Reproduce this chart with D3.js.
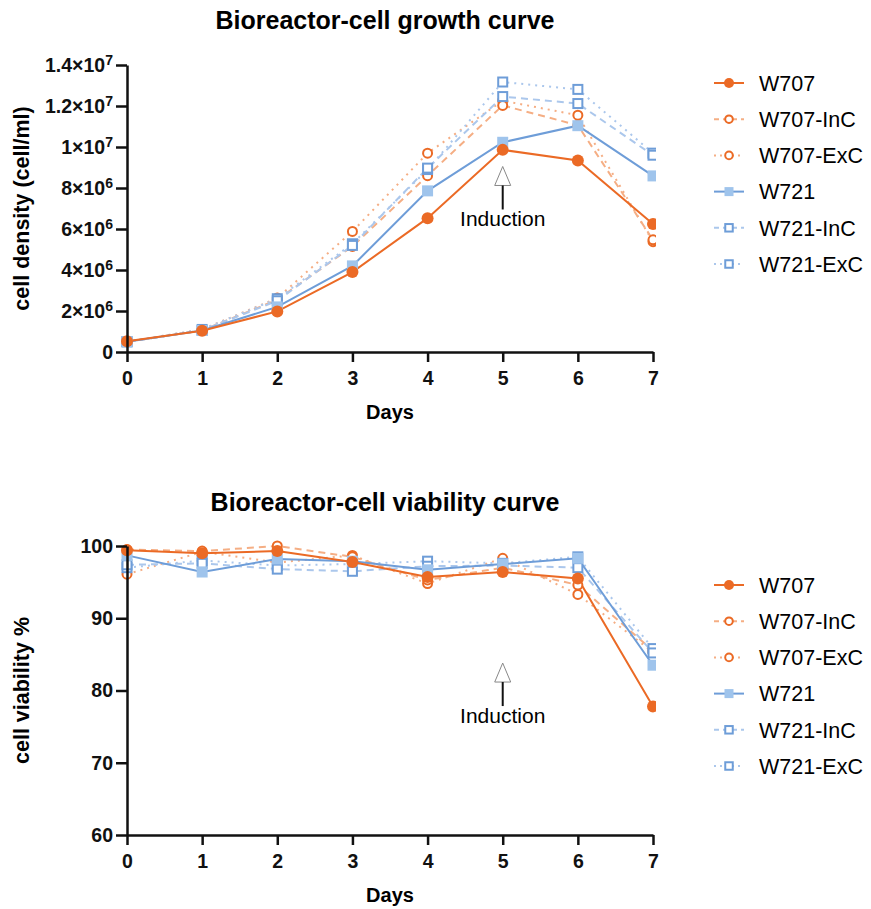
<!DOCTYPE html>
<html>
<head>
<meta charset="utf-8">
<script src="https://cdn.jsdelivr.net/npm/d3@7"></script>
<style>
  body { margin: 0; background: #fff; font-family: "Liberation Sans", Arial, sans-serif; }
</style>
</head>
<body>
<div id="chart"></div>
<script>
const days = [0, 1, 2, 3, 4, 5, 6, 7];
const seriesNames = ["W707", "W707-InC", "W707-ExC", "W721", "W721-InC", "W721-ExC"];

// cell density (cell/ml)
const densW707    = [0.52e6, 1.04e6, 1.98e6, 3.90e6, 6.53e6, 9.86e6, 9.34e6, 6.24e6];
const densW707InC = [0.50e6, 1.05e6, 2.55e6, 5.15e6, 8.60e6, 12.03e6, 11.06e6, 5.47e6];
const densW707ExC = [0.50e6, 1.10e6, 2.63e6, 5.88e6, 9.70e6, 12.26e6, 11.55e6, 5.38e6];
const densW721    = [0.50e6, 1.05e6, 2.20e6, 4.20e6, 7.86e6, 10.23e6, 11.04e6, 8.59e6];
const densW721InC = [0.50e6, 1.05e6, 2.50e6, 5.20e6, 8.97e6, 12.46e6, 12.12e6, 9.60e6];
const densW721ExC = [0.50e6, 1.10e6, 2.60e6, 5.28e6, 8.90e6, 13.17e6, 12.81e6, 9.70e6];

// cell viability (%)
const viabW707    = [99.4, 99.0, 99.3, 97.8, 95.7, 96.4, 95.5, 77.8];
const viabW707InC = [99.5, 99.3, 100.0, 98.5, 95.3, 97.0, 94.6, 85.5];
const viabW707ExC = [96.1, 99.2, 97.7, 98.7, 94.8, 98.3, 93.3, 85.3];
const viabW721    = [98.7, 96.4, 98.2, 97.9, 96.7, 97.5, 98.3, 83.5];
const viabW721InC = [97.4, 97.6, 96.8, 96.5, 97.2, 97.3, 97.0, 85.2];
const viabW721ExC = [97.0, 98.0, 97.3, 97.5, 97.9, 97.6, 98.5, 85.8];

const densTicks = [0, 2e6, 4e6, 6e6, 8e6, 10e6, 12e6, 14e6];
const viabTicks = [60, 70, 80, 90, 100];

const orange = "#EB6A25", orangeLight = "#F5AE84";
const blue = "#6E9DD8", blueFill = "#9FC4EC", blueLight = "#ABC7EC";

// line + marker style per series (same order as seriesNames)
const styles = [
  { line: orange,      dash: null,  width: 2,   marker: "circle", fill: orange, stroke: orange },
  { line: orangeLight, dash: "7,5", width: 2,   marker: "circle", fill: "#fff", stroke: orange },
  { line: orangeLight, dash: "2,5", width: 2,   marker: "circle", fill: "#fff", stroke: orange },
  { line: blue,        dash: null,  width: 2,   marker: "square", fill: blueFill, stroke: blueFill },
  { line: blueLight,   dash: "7,5", width: 2,   marker: "square", fill: "#fff", stroke: blue },
  { line: blueLight,   dash: "2,5", width: 2,   marker: "square", fill: "#fff", stroke: blue }
];

const width = 871, height = 909;
const svg = d3.select("#chart").append("svg")
    .attr("width", width)
    .attr("height", height)
    .style("font-family", "'Liberation Sans', Arial, sans-serif");

const xRange = [127, 653];

function drawMarker(g, s, cx, cy, big) {
  let filled = s.fill !== "#fff";
  if (s.marker === "circle") {
    g.append("circle")
      .attr("cx", cx).attr("cy", cy)
      .attr("r", filled ? (big ? 6 : 5) : (big ? 4.5 : 3.8))
      .attr("fill", s.fill)
      .attr("stroke", s.stroke)
      .attr("stroke-width", filled ? 0 : 2);
  } else {
    let side = filled ? (big ? 11 : 9) : (big ? 9 : 7.5);
    g.append("rect")
      .attr("x", cx - side / 2).attr("y", cy - side / 2)
      .attr("width", side).attr("height", side)
      .attr("fill", s.fill)
      .attr("stroke", s.stroke)
      .attr("stroke-width", filled ? 0 : 2);
  }
}

function drawPanel(cfg) {
  let x = d3.scaleLinear().domain([0, 7]).range(xRange);
  let y = d3.scaleLinear().domain(cfg.domain).range(cfg.yRange);
  let g = svg.append("g");

  // title
  g.append("text")
    .attr("x", 385).attr("y", cfg.titleY)
    .attr("text-anchor", "middle")
    .style("font-size", "25px").style("font-weight", "bold")
    .text(cfg.title);

  // data
  let clipId = "clip" + cfg.id;
  g.append("clipPath").attr("id", clipId)
    .append("rect")
    .attr("x", 0).attr("y", cfg.yRange[1] - 20)
    .attr("width", 656).attr("height", cfg.yRange[0] - cfg.yRange[1] + 40);
  let plot = g.append("g").attr("clip-path", `url(#${clipId})`);

  let line = d3.line().x((d, i) => x(days[i])).y(d => y(d));
  let drawOrder = [2, 1, 5, 4, 3, 0];
  drawOrder.forEach(function(k) {
    let s = styles[k];
    plot.append("path")
      .attr("d", line(cfg.series[k]))
      .attr("fill", "none")
      .attr("stroke", s.line)
      .attr("stroke-width", s.width)
      .attr("stroke-dasharray", s.dash);
  });
  drawOrder.forEach(function(k) {
    cfg.series[k].forEach(function(v, i) {
      drawMarker(plot, styles[k], x(days[i]), y(v), true);
    });
  });

  // axes
  let yAxis = d3.axisLeft(y).tickValues(cfg.ticks).tickSize(11).tickPadding(3).tickSizeOuter(0);
  let yg = g.append("g").attr("transform", `translate(${xRange[0]},0)`).call(yAxis);
  let xAxis = d3.axisBottom(x).tickValues(days).tickSize(10).tickPadding(9).tickSizeOuter(0)
      .tickFormat(d3.format("d"));
  let xg = g.append("g").attr("transform", `translate(0,${cfg.yRange[0]})`).call(xAxis);

  [yg, xg].forEach(function(a) {
    a.select(".domain").attr("stroke", "#111").attr("stroke-width", 2.5);
    a.selectAll(".tick line").attr("stroke", "#111").attr("stroke-width", 2.5);
    a.selectAll(".tick text")
      .attr("fill", "#111")
      .style("font-size", "19.5px").style("font-weight", "bold")
      .style("font-family", "'Liberation Sans', Arial, sans-serif");
  });

  if (cfg.sci) {
    yg.selectAll(".tick text").each(function(d) {
      let t = d3.select(this).text("");
      if (d === 0) { t.text("0"); return; }
      let exp = Math.floor(Math.log10(d));
      let mant = +(d / Math.pow(10, exp)).toFixed(1);
      t.append("tspan").text(mant + "×10");
      t.append("tspan").attr("dy", "-0.5em").style("font-size", "14px").text(exp);
    });
  }

  // axis titles
  g.append("text")
    .attr("x", (xRange[0] + xRange[1]) / 2).attr("y", cfg.yRange[0] + 67)
    .attr("text-anchor", "middle")
    .style("font-size", "20px").style("font-weight", "bold")
    .text("Days");
  g.append("text")
    .attr("transform", `translate(29,${(cfg.yRange[0] + cfg.yRange[1]) / 2}) rotate(-90)`)
    .attr("text-anchor", "middle")
    .style("font-size", "21.5px").style("font-weight", "bold")
    .text(cfg.yLabel);

  // induction marker at day 5
  let ax = x(5), ay = y(cfg.inductionAt);
  g.append("path")
    .attr("d", `M${ax},${ay} L${ax + 8},${ay + 19} L${ax - 8},${ay + 19} Z`)
    .attr("fill", "#fff").attr("stroke", "#888").attr("stroke-width", 1);
  g.append("line")
    .attr("x1", ax).attr("x2", ax).attr("y1", ay + 19).attr("y2", ay + 43)
    .attr("stroke", "#111").attr("stroke-width", 2);
  g.append("text")
    .attr("x", ax).attr("y", ay + 60)
    .attr("text-anchor", "middle")
    .style("font-size", "21px")
    .text("Induction");

  // legend
  let leg = g.append("g");
  seriesNames.forEach(function(name, i) {
    let s = styles[i];
    let ly = cfg.legendY + i * 36.2;
    leg.append("line")
      .attr("x1", 714).attr("x2", 744).attr("y1", ly).attr("y2", ly)
      .attr("stroke", s.line).attr("stroke-width", 2)
      .attr("stroke-dasharray", s.dash ? (s.dash === "7,5" ? "5,4" : "2,4") : null);
    drawMarker(leg, s, 729, ly, false);
    leg.append("text")
      .attr("x", 759).attr("y", ly).attr("dy", "0.36em")
      .style("font-size", "21.5px")
      .text(name);
  });
}

drawPanel({
  id: 1,
  title: "Bioreactor-cell growth curve",
  titleY: 29,
  domain: [0, 1.4e7],
  yRange: [352, 65],
  ticks: densTicks,
  sci: true,
  yLabel: "cell density (cell/ml)",
  series: [densW707, densW707InC, densW707ExC, densW721, densW721InC, densW721ExC],
  inductionAt: 9.05e6,
  legendY: 83
});

drawPanel({
  id: 2,
  title: "Bioreactor-cell viability curve",
  titleY: 511,
  domain: [60, 100],
  yRange: [835, 546],
  ticks: viabTicks,
  sci: false,
  yLabel: "cell viability %",
  series: [viabW707, viabW707InC, viabW707ExC, viabW721, viabW721InC, viabW721ExC],
  inductionAt: 83.8,
  legendY: 585
});
</script>
</body>
</html>
